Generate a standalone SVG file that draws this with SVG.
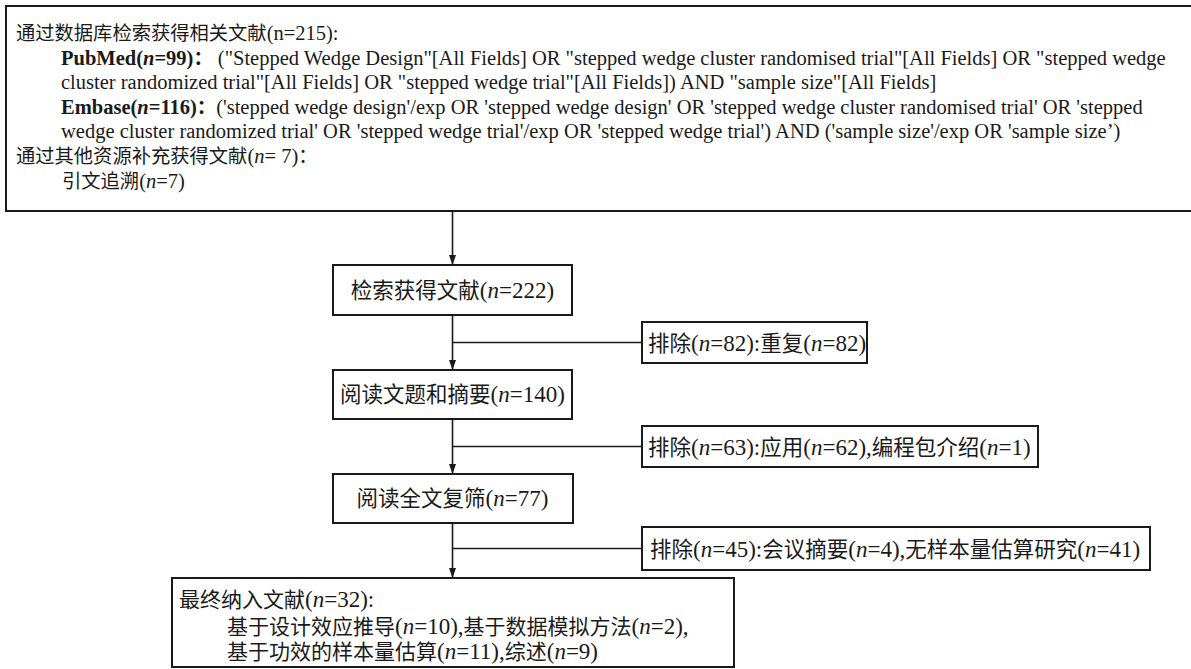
<svg xmlns="http://www.w3.org/2000/svg" width="1191" height="669" viewBox="0 0 1191 669">
<defs>
<style>
.box{fill:#fff;stroke:#1a1a1a;stroke-width:2}
.ln{fill:none;stroke:#1a1a1a;stroke-width:1.6}
text{font-family:"Liberation Serif","Noto Sans CJK SC",serif;fill:#1a1a1a}
.tt{font-size:20.5px}
.tf{font-size:23px}
.c1{font-size:19.3px}
.c2{font-size:21.5px}
.c3{font-size:21px}
.i{font-style:italic}
.b{font-weight:bold}
</style>
<marker id="arr" markerUnits="userSpaceOnUse" markerWidth="10" markerHeight="10" viewBox="0 0 10 10" refX="10" refY="5" orient="auto">
<path d="M0,1.5 L10,5 L0,8.5 Z" fill="#1a1a1a"/>
</marker>
</defs>
<rect width="1191" height="669" fill="#fff"/>

<g id="search">
<rect class="box" x="6" y="6" width="1190" height="205"/>
<text class="tt" x="16" y="40"><tspan class="c1">通过数据库检索获得相关文献</tspan>(n=215):</text>
<text class="tt" x="61" y="64.6"><tspan class="b">PubMed(<tspan class="i">n</tspan>=99)<tspan class="c1">：</tspan></tspan> ("Stepped Wedge Design"[All Fields] OR "stepped wedge cluster randomised trial"[All Fields] OR "stepped wedge</text>
<text class="tt" x="61" y="89.2">cluster randomized trial"[All Fields] OR "stepped wedge trial"[All Fields]) AND "sample size"[All Fields]</text>
<text class="tt" x="61" y="113.8"><tspan class="b">Embase(<tspan class="i">n</tspan>=116)<tspan class="c1">：</tspan></tspan>('stepped wedge design'/exp OR 'stepped wedge design' OR 'stepped wedge cluster randomised trial' OR 'stepped</text>
<text class="tt" x="61" y="138.4">wedge cluster randomized trial' OR 'stepped wedge trial'/exp OR 'stepped wedge trial') AND ('sample size'/exp OR 'sample size’)</text>
<text class="tt" x="16" y="163"><tspan class="c1">通过其他资源补充获得文献</tspan>(<tspan class="i">n</tspan>= 7)<tspan class="c1">：</tspan></text>
<text class="tt" x="62" y="187.6"><tspan class="c1">引文追溯</tspan>(<tspan class="i">n</tspan>=7)</text>
</g>

<g id="connectors">
<line class="ln" x1="452.5" y1="211" x2="452.5" y2="265" marker-end="url(#arr)"/>
<line class="ln" x1="452.5" y1="315" x2="452.5" y2="370" marker-end="url(#arr)"/>
<line class="ln" x1="452.5" y1="419" x2="452.5" y2="474" marker-end="url(#arr)"/>
<line class="ln" x1="452.5" y1="523" x2="452.5" y2="578" marker-end="url(#arr)"/>
<line class="ln" x1="452.5" y1="342.5" x2="642" y2="342.5"/>
<line class="ln" x1="452.5" y1="446.5" x2="642" y2="446.5"/>
<line class="ln" x1="452.5" y1="548.5" x2="642" y2="548.5"/>
</g>

<g id="retrieved">
<rect class="box" x="333" y="265" width="239" height="50"/>
<text class="tf" x="452.5" y="298" text-anchor="middle"><tspan class="c2">检索获得文献</tspan>(<tspan class="i">n</tspan>=222)</text>
</g>

<g id="excl1">
<rect class="box" x="642" y="322" width="225" height="41"/>
<text class="tf" x="648" y="350.5"><tspan class="c2">排除</tspan>(<tspan class="i">n</tspan>=82):<tspan class="c2">重复</tspan>(<tspan class="i">n</tspan>=82)</text>
</g>

<g id="abstract">
<rect class="box" x="333" y="370" width="239" height="49"/>
<text class="tf" x="452.5" y="402" text-anchor="middle"><tspan class="c2">阅读文题和摘要</tspan>(<tspan class="i">n</tspan>=140)</text>
</g>

<g id="excl2">
<rect class="box" x="642" y="426" width="396" height="41"/>
<text class="tf" x="648" y="454.5"><tspan class="c2">排除</tspan>(<tspan class="i">n</tspan>=63):<tspan class="c2">应用</tspan>(<tspan class="i">n</tspan>=62),<tspan class="c2">编程包介绍</tspan>(<tspan class="i">n</tspan>=1)</text>
</g>

<g id="fulltext">
<rect class="box" x="333" y="474" width="240" height="49"/>
<text class="tf" x="452.5" y="506" text-anchor="middle"><tspan class="c2">阅读全文复筛</tspan>(<tspan class="i">n</tspan>=77)</text>
</g>

<g id="excl3">
<rect class="box" x="642" y="527" width="508" height="43"/>
<text class="tf" x="650" y="556.5"><tspan class="c2">排除</tspan>(<tspan class="i">n</tspan>=45):<tspan class="c2">会议摘要</tspan>(<tspan class="i">n</tspan>=4),<tspan class="c2">无样本量估算研究</tspan>(<tspan class="i">n</tspan>=41)</text>
</g>

<g id="included">
<rect class="box" x="172" y="578" width="562" height="89"/>
<text class="tf" x="179" y="607"><tspan class="c3">最终纳入文献</tspan>(<tspan class="i">n</tspan>=32):</text>
<text class="tf" x="227" y="634"><tspan class="c3">基于设计效应推导</tspan>(<tspan class="i">n</tspan>=10),<tspan class="c3">基于数据模拟方法</tspan>(<tspan class="i">n</tspan>=2),</text>
<text class="tf" x="227" y="659"><tspan class="c3">基于功效的样本量估算</tspan>(<tspan class="i">n</tspan>=11),<tspan class="c3">综述</tspan>(<tspan class="i">n</tspan>=9)</text>
</g>
</svg>
